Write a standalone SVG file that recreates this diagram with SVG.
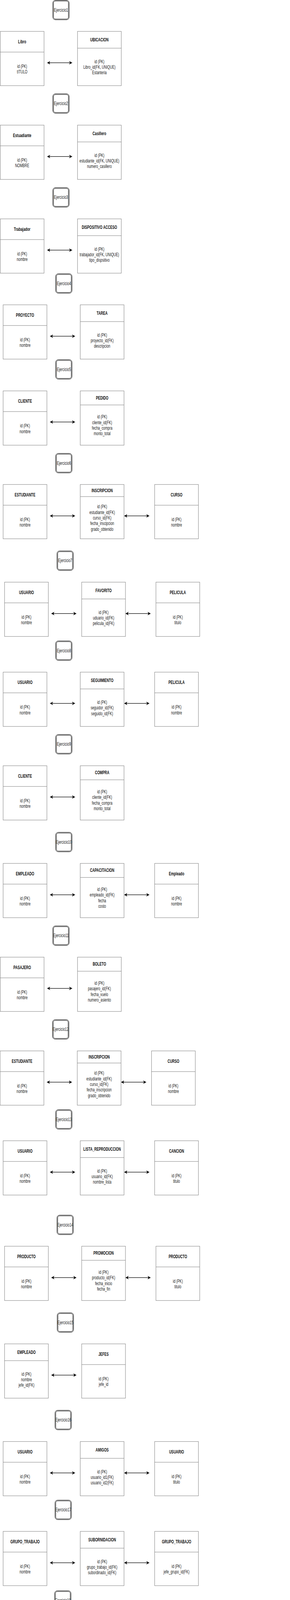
<svg xmlns="http://www.w3.org/2000/svg" width="742" height="6046" viewBox="0 0 742 6046">
<style>
.tb{fill:#fff;stroke:#808080;stroke-width:1}
.dv{stroke:#808080;stroke-width:1}
.eo{fill:#fff;stroke:#000;stroke-width:1}
.ei{fill:none;stroke:#000;stroke-width:1}
.h{font-family:"Liberation Sans",Arial,sans-serif;font-size:12px;font-weight:bold;text-anchor:middle;dominant-baseline:central;fill:#111}
.b{font-family:"Liberation Sans",Arial,sans-serif;font-size:12px;text-anchor:middle;dominant-baseline:central;fill:#222}
.e{font-family:"Liberation Sans",Arial,sans-serif;font-size:12px;text-anchor:middle;dominant-baseline:central;fill:#222}
.ar{stroke:#000;stroke-width:1.3;fill:none;marker-start:url(#ah);marker-end:url(#ah)}
</style>
<defs>
<marker id="ah" viewBox="0 0 8 9" refX="7.5" refY="4.5" markerWidth="8" markerHeight="9" markerUnits="userSpaceOnUse" orient="auto-start-reverse"><path d="M0,0 L8,4.5 L0,9 L2.5,4.5 Z" fill="#000"/></marker>
<clipPath id="clipS"><rect x="200" y="5180" width="122" height="160"/></clipPath>
</defs>
<rect x="0" y="0" width="742" height="6046" fill="#fff"/>

<!-- Ejercicio labels -->
<g id="ej1"><rect class="eo" x="135" y="0.7" width="42" height="50" rx="7"/><rect class="ei" x="137" y="2.7" width="38" height="46" rx="5"/><text class="e" transform="translate(156 25.7) scale(.69 1)">Ejercicio1</text></g>
<g id="ej2"><rect class="eo" x="135" y="240" width="42" height="50" rx="7"/><rect class="ei" x="137" y="242" width="38" height="46" rx="5"/><text class="e" transform="translate(156 265) scale(.69 1)">Ejercicio2</text></g>
<g id="ej3"><rect class="eo" x="135" y="480.3" width="42" height="50" rx="7"/><rect class="ei" x="137" y="482.3" width="38" height="46" rx="5"/><text class="e" transform="translate(156 505.3) scale(.69 1)">Ejercicio3</text></g>
<g id="ej4"><rect class="eo" x="142.3" y="700.7" width="42" height="50" rx="7"/><rect class="ei" x="144.3" y="702.7" width="38" height="46" rx="5"/><text class="e" transform="translate(163.3 725.7) scale(.69 1)">Ejercicio4</text></g>
<g id="ej5"><rect class="eo" x="142.3" y="920.7" width="42" height="50" rx="7"/><rect class="ei" x="144.3" y="922.7" width="38" height="46" rx="5"/><text class="e" transform="translate(163.3 945.7) scale(.69 1)">Ejercicio5</text></g>
<g id="ej6"><rect class="eo" x="142.3" y="1160.7" width="42" height="50" rx="7"/><rect class="ei" x="144.3" y="1162.7" width="38" height="46" rx="5"/><text class="e" transform="translate(163.3 1185.7) scale(.69 1)">Ejercicio6</text></g>
<g id="ej7"><rect class="eo" x="145.7" y="1410.3" width="42" height="50" rx="7"/><rect class="ei" x="147.7" y="1412.3" width="38" height="46" rx="5"/><text class="e" transform="translate(166.7 1435.3) scale(.69 1)">Ejercicio7</text></g>
<g id="ej8"><rect class="eo" x="142.3" y="1640.7" width="42" height="50" rx="7"/><rect class="ei" x="144.3" y="1642.7" width="38" height="46" rx="5"/><text class="e" transform="translate(163.3 1665.7) scale(.69 1)">Ejercicio8</text></g>
<g id="ej9"><rect class="eo" x="142.3" y="1880.3" width="42" height="50" rx="7"/><rect class="ei" x="144.3" y="1882.3" width="38" height="46" rx="5"/><text class="e" transform="translate(163.3 1905.3) scale(.69 1)">Ejercicio9</text></g>
<g id="ej10"><rect class="eo" x="142.3" y="2130.7" width="42" height="50" rx="7"/><rect class="ei" x="144.3" y="2132.7" width="38" height="46" rx="5"/><text class="e" transform="translate(163.3 2155.7) scale(.69 1)">Ejercicio10</text></g>
<g id="ej11"><rect class="eo" x="135" y="2370.3" width="42" height="50" rx="7"/><rect class="ei" x="137" y="2372.3" width="38" height="46" rx="5"/><text class="e" transform="translate(156 2395.3) scale(.69 1)">Ejercicio11</text></g>
<g id="ej12"><rect class="eo" x="134.3" y="2610.3" width="42" height="50" rx="7"/><rect class="ei" x="136.3" y="2612.3" width="38" height="46" rx="5"/><text class="e" transform="translate(155.3 2635.3) scale(.69 1)">Ejercicio12</text></g>
<g id="ej13"><rect class="eo" x="142.3" y="2840.7" width="42" height="50" rx="7"/><rect class="ei" x="144.3" y="2842.7" width="38" height="46" rx="5"/><text class="e" transform="translate(163.3 2865.7) scale(.69 1)">Ejercicio13</text></g>
<g id="ej14"><rect class="eo" x="145.7" y="3110.7" width="42" height="50" rx="7"/><rect class="ei" x="147.7" y="3112.7" width="38" height="46" rx="5"/><text class="e" transform="translate(166.7 3135.7) scale(.69 1)">Ejercicio14</text></g>
<g id="ej15"><rect class="eo" x="146.3" y="3360.7" width="42" height="50" rx="7"/><rect class="ei" x="148.3" y="3362.7" width="38" height="46" rx="5"/><text class="e" transform="translate(167.3 3385.7) scale(.69 1)">Ejercicio15</text></g>
<g id="ej16"><rect class="eo" x="140.7" y="3610.3" width="42" height="50" rx="7"/><rect class="ei" x="142.7" y="3612.3" width="38" height="46" rx="5"/><text class="e" transform="translate(161.7 3635.3) scale(.69 1)">Ejercicio16</text></g>
<g id="ej17"><rect class="eo" x="140.7" y="3840.3" width="42" height="50" rx="7"/><rect class="ei" x="142.7" y="3842.3" width="38" height="46" rx="5"/><text class="e" transform="translate(161.7 3865.3) scale(.69 1)">Ejercicio17</text></g>
<g id="ej18"><rect class="eo" x="139.7" y="4072.3" width="42" height="50" rx="7"/><rect class="ei" x="141.7" y="4074.3" width="38" height="46" rx="5"/><text class="e" transform="translate(160.7 4097.3) scale(.69 1)">Ejercicio18</text></g>
<g id="ej19"><rect class="eo" x="141.3" y="4580.3" width="42" height="50" rx="7"/><rect class="ei" x="143.3" y="4582.3" width="38" height="46" rx="5"/><text class="e" transform="translate(162.3 4605.3) scale(.69 1)">Ejercicio19</text></g>
<g id="ej20"><rect class="eo" x="147" y="5110.3" width="42" height="50" rx="7"/><rect class="ei" x="149" y="5112.3" width="38" height="46" rx="5"/><text class="e" transform="translate(168 5135.3) scale(.69 1)">Ejercicio20</text></g>
<g id="ej21"><rect class="eo" x="146.3" y="5340.3" width="42" height="50" rx="7"/><rect class="ei" x="148.3" y="5342.3" width="38" height="46" rx="5"/><text class="e" transform="translate(167.3 5365.3) scale(.69 1)">Ejercicio21</text></g>
<g id="ej22"><rect class="eo" x="149.7" y="5590.3" width="42" height="50" rx="7"/><rect class="ei" x="151.7" y="5592.3" width="38" height="46" rx="5"/><text class="e" transform="translate(170.7 5615.3) scale(.69 1)">Ejercicio22</text></g>
<g id="ej23"><rect class="eo" x="149.7" y="5825.3" width="42" height="50" rx="7"/><rect class="ei" x="151.7" y="5827.3" width="38" height="46" rx="5"/><text class="e" transform="translate(170.7 5850.3) scale(.69 1)">Ejercicio23</text></g>

<!-- Tables -->
<g id="t1"><rect class="tb" x="0.7" y="80.3" width="112" height="139"/><line class="dv" x1="0.7" y1="133.3" x2="112.7" y2="133.3"/><text class="h" transform="translate(56.7 106.8) scale(.69 1)">Libro</text><text class="b" transform="translate(56.7 169.1) scale(.69 1)"><tspan x="0" y="0">id (PK)</tspan><tspan x="0" dy="14.4">tITULO</tspan></text></g>
<g id="t2"><rect class="tb" x="198.3" y="80.3" width="112" height="139"/><line class="dv" x1="198.3" y1="123.3" x2="310.3" y2="123.3"/><text class="h" transform="translate(254.3 101.8) scale(.69 1)">UBICACION</text><text class="b" transform="translate(254.3 156.9) scale(.69 1)"><tspan x="0" y="0">id (PK)</tspan><tspan x="0" dy="14.4">Libro_id(FK, UNIQUE)</tspan><tspan x="0" dy="14.4">Estanteria</tspan></text></g>

<g id="t3"><rect class="tb" x="0.7" y="320.3" width="112" height="139"/><line class="dv" x1="0.7" y1="373.3" x2="112.7" y2="373.3"/><text class="h" transform="translate(56.7 346.8) scale(.69 1)">Estuadiante</text><text class="b" transform="translate(56.7 409.1) scale(.69 1)"><tspan x="0" y="0">id (PK)</tspan><tspan x="0" dy="14.4">NOMBRE</tspan></text></g>
<g id="t4"><rect class="tb" x="198.3" y="320.3" width="112" height="139"/><line class="dv" x1="198.3" y1="363.3" x2="310.3" y2="363.3"/><text class="h" transform="translate(254.3 341.8) scale(.69 1)">Casillero</text><text class="b" transform="translate(254.3 396.9) scale(.69 1)"><tspan x="0" y="0">id (PK)</tspan><tspan x="0" dy="14.4">estudiante_id(FK, UNIQUE)</tspan><tspan x="0" dy="14.4">numero_casillero</tspan></text></g>

<g id="t5"><rect class="tb" x="0.7" y="560.3" width="112" height="139"/><line class="dv" x1="0.7" y1="613.3" x2="112.7" y2="613.3"/><text class="h" transform="translate(56.7 586.8) scale(.69 1)">Trabajador</text><text class="b" transform="translate(56.7 649.1) scale(.69 1)"><tspan x="0" y="0">id (PK)</tspan><tspan x="0" dy="14.4">nombre</tspan></text></g>
<g id="t6"><rect class="tb" x="198.3" y="560.3" width="112" height="139"/><line class="dv" x1="198.3" y1="603.3" x2="310.3" y2="603.3"/><text class="h" transform="translate(254.3 581.8) scale(.69 1)">DISPOSITIVO ACCESO</text><text class="b" transform="translate(254.3 636.9) scale(.69 1)"><tspan x="0" y="0">id (PK)</tspan><tspan x="0" dy="14.4">trabajador_id(FK, UNIQUE)</tspan><tspan x="0" dy="14.4">tipo_dispsitivo</tspan></text></g>

<g id="t7"><rect class="tb" x="8" y="780.3" width="112" height="139"/><line class="dv" x1="8" y1="833.3" x2="120" y2="833.3"/><text class="h" transform="translate(64 806.8) scale(.69 1)">PROYECTO</text><text class="b" transform="translate(64 869.1) scale(.69 1)"><tspan x="0" y="0">id (PK)</tspan><tspan x="0" dy="14.4">nombre</tspan></text></g>
<g id="t8"><rect class="tb" x="205.3" y="780.3" width="112" height="139"/><line class="dv" x1="205.3" y1="823.3" x2="317.3" y2="823.3"/><text class="h" transform="translate(261.3 801.8) scale(.69 1)">TAREA</text><text class="b" transform="translate(261.3 856.9) scale(.69 1)"><tspan x="0" y="0">id (PK)</tspan><tspan x="0" dy="14.4">proyecto_id(FK)</tspan><tspan x="0" dy="14.4">descripcion</tspan></text></g>

<g id="t9"><rect class="tb" x="8" y="1000.7" width="112" height="139"/><line class="dv" x1="8" y1="1053.7" x2="120" y2="1053.7"/><text class="h" transform="translate(64 1027.2) scale(.69 1)">CLIENTE</text><text class="b" transform="translate(64 1089.5) scale(.69 1)"><tspan x="0" y="0">id (PK)</tspan><tspan x="0" dy="14.4">nombre</tspan></text></g>
<g id="t10"><rect class="tb" x="205.3" y="1000.7" width="112" height="139"/><line class="dv" x1="205.3" y1="1036.7" x2="317.3" y2="1036.7"/><text class="h" transform="translate(261.3 1018.7) scale(.69 1)">PEDIDO</text><text class="b" transform="translate(261.3 1066.6) scale(.69 1)"><tspan x="0" y="0">id (PK)</tspan><tspan x="0" dy="14.4">cliente_id(FK)</tspan><tspan x="0" dy="14.4">fecha_compra</tspan><tspan x="0" dy="14.4">monto_total</tspan></text></g>

<g id="t11"><rect class="tb" x="8" y="1240.3" width="112" height="139"/><line class="dv" x1="8" y1="1293.3" x2="120" y2="1293.3"/><text class="h" transform="translate(64 1266.8) scale(.69 1)">ESTUDIANTE</text><text class="b" transform="translate(64 1329.1) scale(.69 1)"><tspan x="0" y="0">id (PK)</tspan><tspan x="0" dy="14.4">nombre</tspan></text></g>
<g id="t12"><rect class="tb" x="205.3" y="1240.3" width="112" height="139"/><line class="dv" x1="205.3" y1="1271.3" x2="317.3" y2="1271.3"/><text class="h" transform="translate(261.3 1255.8) scale(.69 1)">INSCRIPCION</text><text class="b" transform="translate(261.3 1296.5) scale(.69 1)"><tspan x="0" y="0">id (PK)</tspan><tspan x="0" dy="14.4">estudiante_id(FK)</tspan><tspan x="0" dy="14.4">curso_id(FK)</tspan><tspan x="0" dy="14.4">fecha_inscipcion</tspan><tspan x="0" dy="14.4">grado_obtenido</tspan></text></g>
<g id="t13"><rect class="tb" x="395.7" y="1240.3" width="112" height="139"/><line class="dv" x1="395.7" y1="1293.3" x2="507.7" y2="1293.3"/><text class="h" transform="translate(451.7 1266.8) scale(.69 1)">CURSO</text><text class="b" transform="translate(451.7 1329.1) scale(.69 1)"><tspan x="0" y="0">id (PK)</tspan><tspan x="0" dy="14.4">nombre</tspan></text></g>

<g id="t14"><rect class="tb" x="11.7" y="1490.3" width="112" height="139"/><line class="dv" x1="11.7" y1="1543.3" x2="123.7" y2="1543.3"/><text class="h" transform="translate(67.7 1516.8) scale(.69 1)">USUARIO</text><text class="b" transform="translate(67.7 1579.1) scale(.69 1)"><tspan x="0" y="0">id (PK)</tspan><tspan x="0" dy="14.4">nombre</tspan></text></g>
<g id="t15"><rect class="tb" x="209" y="1490.3" width="112" height="139"/><line class="dv" x1="209" y1="1533.3" x2="321" y2="1533.3"/><text class="h" transform="translate(265 1511.8) scale(.69 1)">FAVORITO</text><text class="b" transform="translate(265 1566.9) scale(.69 1)"><tspan x="0" y="0">id (PK)</tspan><tspan x="0" dy="14.4">uduario_id(FK)</tspan><tspan x="0" dy="14.4">pelicula_id(FK)</tspan></text></g>
<g id="t16"><rect class="tb" x="399" y="1490.3" width="112" height="139"/><line class="dv" x1="399" y1="1543.3" x2="511" y2="1543.3"/><text class="h" transform="translate(455 1516.8) scale(.69 1)">PELICULA</text><text class="b" transform="translate(455 1579.1) scale(.69 1)"><tspan x="0" y="0">id (PK)</tspan><tspan x="0" dy="14.4">titulo</tspan></text></g>

<g id="t17"><rect class="tb" x="8" y="1720.7" width="112" height="139"/><line class="dv" x1="8" y1="1773.7" x2="120" y2="1773.7"/><text class="h" transform="translate(64 1747.2) scale(.69 1)">USUARIO</text><text class="b" transform="translate(64 1809.5) scale(.69 1)"><tspan x="0" y="0">id (PK)</tspan><tspan x="0" dy="14.4">nombre</tspan></text></g>
<g id="t18"><rect class="tb" x="205.3" y="1720.7" width="112" height="139"/><line class="dv" x1="205.3" y1="1763.7" x2="317.3" y2="1763.7"/><text class="h" transform="translate(261.3 1742.2) scale(.69 1)">SEGUIMIENTO</text><text class="b" transform="translate(261.3 1797.3) scale(.69 1)"><tspan x="0" y="0">id (PK)</tspan><tspan x="0" dy="14.4">seguidor_id(FK)</tspan><tspan x="0" dy="14.4">seguido_id(FK)</tspan></text></g>
<g id="t19"><rect class="tb" x="395.7" y="1720.7" width="112" height="139"/><line class="dv" x1="395.7" y1="1773.7" x2="507.7" y2="1773.7"/><text class="h" transform="translate(451.7 1747.2) scale(.69 1)">PELICULA</text><text class="b" transform="translate(451.7 1809.5) scale(.69 1)"><tspan x="0" y="0">id (PK)</tspan><tspan x="0" dy="14.4">nombre</tspan></text></g>

<g id="t20"><rect class="tb" x="8" y="1960.3" width="112" height="139"/><line class="dv" x1="8" y1="2013.3" x2="120" y2="2013.3"/><text class="h" transform="translate(64 1986.8) scale(.69 1)">CLIENTE</text><text class="b" transform="translate(64 2049.1) scale(.69 1)"><tspan x="0" y="0">id (PK)</tspan><tspan x="0" dy="14.4">nombre</tspan></text></g>
<g id="t21"><rect class="tb" x="205.3" y="1960.3" width="112" height="139"/><line class="dv" x1="205.3" y1="1996.3" x2="317.3" y2="1996.3"/><text class="h" transform="translate(261.3 1978.3) scale(.69 1)">COMPRA</text><text class="b" transform="translate(261.3 2026.2) scale(.69 1)"><tspan x="0" y="0">id (PK)</tspan><tspan x="0" dy="14.4">cliente_id(FK)</tspan><tspan x="0" dy="14.4">fecha_compra</tspan><tspan x="0" dy="14.4">monto_total</tspan></text></g>

<g id="t22"><rect class="tb" x="8" y="2210.3" width="112" height="139"/><line class="dv" x1="8" y1="2263.3" x2="120" y2="2263.3"/><text class="h" transform="translate(64 2236.8) scale(.69 1)">EMPLEADO</text><text class="b" transform="translate(64 2299.1) scale(.69 1)"><tspan x="0" y="0">id (PK)</tspan><tspan x="0" dy="14.4">nombre</tspan></text></g>
<g id="t23"><rect class="tb" x="205.3" y="2210.3" width="112" height="139"/><line class="dv" x1="205.3" y1="2246.3" x2="317.3" y2="2246.3"/><text class="h" transform="translate(261.3 2228.3) scale(.69 1)">CAPACITACION</text><text class="b" transform="translate(261.3 2276.2) scale(.69 1)"><tspan x="0" y="0">id (PK)</tspan><tspan x="0" dy="14.4">empleado_id(FK)</tspan><tspan x="0" dy="14.4">fecha</tspan><tspan x="0" dy="14.4">costo</tspan></text></g>
<g id="t24"><rect class="tb" x="395.7" y="2210.3" width="112" height="139"/><line class="dv" x1="395.7" y1="2263.3" x2="507.7" y2="2263.3"/><text class="h" transform="translate(451.7 2236.8) scale(.69 1)">Empleado</text><text class="b" transform="translate(451.7 2299.1) scale(.69 1)"><tspan x="0" y="0">id (PK)</tspan><tspan x="0" dy="14.4">nombre</tspan></text></g>

<g id="t25"><rect class="tb" x="0.7" y="2450.3" width="112" height="139"/><line class="dv" x1="0.7" y1="2503.3" x2="112.7" y2="2503.3"/><text class="h" transform="translate(56.7 2476.8) scale(.69 1)">PASAJERO</text><text class="b" transform="translate(56.7 2539.1) scale(.69 1)"><tspan x="0" y="0">id (PK)</tspan><tspan x="0" dy="14.4">nombre</tspan></text></g>
<g id="t26"><rect class="tb" x="198.3" y="2450.3" width="112" height="139"/><line class="dv" x1="198.3" y1="2486.3" x2="310.3" y2="2486.3"/><text class="h" transform="translate(254.3 2468.3) scale(.69 1)">BOLETO</text><text class="b" transform="translate(254.3 2516.2) scale(.69 1)"><tspan x="0" y="0">id (PK)</tspan><tspan x="0" dy="14.4">pasajero_id(FK)</tspan><tspan x="0" dy="14.4">fecha_vuelo</tspan><tspan x="0" dy="14.4">numero_asiento</tspan></text></g>

<g id="t27"><rect class="tb" x="0.3" y="2690.3" width="112" height="139"/><line class="dv" x1="0.3" y1="2743.3" x2="112.3" y2="2743.3"/><text class="h" transform="translate(56.3 2716.8) scale(.69 1)">ESTUDIANTE</text><text class="b" transform="translate(56.3 2779.1) scale(.69 1)"><tspan x="0" y="0">id (PK)</tspan><tspan x="0" dy="14.4">nombre</tspan></text></g>
<g id="t28"><rect class="tb" x="197.7" y="2690.3" width="112" height="139"/><line class="dv" x1="197.7" y1="2721.3" x2="309.7" y2="2721.3"/><text class="h" transform="translate(253.7 2705.8) scale(.69 1)">INSCRIPCION</text><text class="b" transform="translate(253.7 2746.5) scale(.69 1)"><tspan x="0" y="0">id (PK)</tspan><tspan x="0" dy="14.4">estudiante_id(FK)</tspan><tspan x="0" dy="14.4">curso_id(FK)</tspan><tspan x="0" dy="14.4">fecha_inscripcion</tspan><tspan x="0" dy="14.4">grado_obtenido</tspan></text></g>
<g id="t29"><rect class="tb" x="387.7" y="2690.3" width="112" height="139"/><line class="dv" x1="387.7" y1="2743.3" x2="499.7" y2="2743.3"/><text class="h" transform="translate(443.7 2716.8) scale(.69 1)">CURSO</text><text class="b" transform="translate(443.7 2779.1) scale(.69 1)"><tspan x="0" y="0">id (PK)</tspan><tspan x="0" dy="14.4">nombre</tspan></text></g>

<g id="t30"><rect class="tb" x="8" y="2920.3" width="112" height="139"/><line class="dv" x1="8" y1="2973.3" x2="120" y2="2973.3"/><text class="h" transform="translate(64 2946.8) scale(.69 1)">USUARIO</text><text class="b" transform="translate(64 3009.1) scale(.69 1)"><tspan x="0" y="0">id (PK)</tspan><tspan x="0" dy="14.4">nombre</tspan></text></g>
<g id="t31"><rect class="tb" x="205.3" y="2920.3" width="112" height="139"/><line class="dv" x1="205.3" y1="2963.3" x2="317.3" y2="2963.3"/><text class="h" transform="translate(261.3 2941.8) scale(.69 1)">LISTA_REPRODUCCION</text><text class="b" transform="translate(261.3 2996.9) scale(.69 1)"><tspan x="0" y="0">id (PK)</tspan><tspan x="0" dy="14.4">usuario_id(FK)</tspan><tspan x="0" dy="14.4">nombre_lista</tspan></text></g>
<g id="t32"><rect class="tb" x="395.7" y="2920.3" width="112" height="139"/><line class="dv" x1="395.7" y1="2973.3" x2="507.7" y2="2973.3"/><text class="h" transform="translate(451.7 2946.8) scale(.69 1)">CANCION</text><text class="b" transform="translate(451.7 3009.1) scale(.69 1)"><tspan x="0" y="0">id (PK)</tspan><tspan x="0" dy="14.4">titulo</tspan></text></g>

<g id="t33"><rect class="tb" x="11.7" y="3190.3" width="112" height="139"/><line class="dv" x1="11.7" y1="3243.3" x2="123.7" y2="3243.3"/><text class="h" transform="translate(67.7 3216.8) scale(.69 1)">PRODUCTO</text><text class="b" transform="translate(67.7 3279.1) scale(.69 1)"><tspan x="0" y="0">id (PK)</tspan><tspan x="0" dy="14.4">nombre</tspan></text></g>
<g id="t34"><rect class="tb" x="209" y="3190.3" width="112" height="139"/><line class="dv" x1="209" y1="3226.3" x2="321" y2="3226.3"/><text class="h" transform="translate(265 3208.3) scale(.69 1)">PROMOCION</text><text class="b" transform="translate(265 3256.2) scale(.69 1)"><tspan x="0" y="0">id (PK)</tspan><tspan x="0" dy="14.4">producto_id(FK)</tspan><tspan x="0" dy="14.4">fecha_inicio</tspan><tspan x="0" dy="14.4">fecha_fin</tspan></text></g>
<g id="t35"><rect class="tb" x="399" y="3190.3" width="112" height="139"/><line class="dv" x1="399" y1="3243.3" x2="511" y2="3243.3"/><text class="h" transform="translate(455 3216.8) scale(.69 1)">PRODUCTO</text><text class="b" transform="translate(455 3279.1) scale(.69 1)"><tspan x="0" y="0">id (PK)</tspan><tspan x="0" dy="14.4">titulo</tspan></text></g>

<g id="t36"><rect class="tb" x="11.7" y="3440.3" width="112" height="139"/><line class="dv" x1="11.7" y1="3483.3" x2="123.7" y2="3483.3"/><text class="h" transform="translate(67.7 3461.8) scale(.69 1)">EMPLEADO</text><text class="b" transform="translate(67.7 3516.9) scale(.69 1)"><tspan x="0" y="0">id (PK)</tspan><tspan x="0" dy="14.4">nombre</tspan><tspan x="0" dy="14.4">jefe_id(FK)</tspan></text></g>
<g id="t37"><rect class="tb" x="209" y="3440.3" width="112" height="139"/><line class="dv" x1="209" y1="3493.3" x2="321" y2="3493.3"/><text class="h" transform="translate(265 3466.8) scale(.69 1)">JEFES</text><text class="b" transform="translate(265 3529.1) scale(.69 1)"><tspan x="0" y="0">id (PK)</tspan><tspan x="0" dy="14.4">jefe_id</tspan></text></g>

<g id="t38"><rect class="tb" x="8" y="3690.3" width="112" height="139"/><line class="dv" x1="8" y1="3743.3" x2="120" y2="3743.3"/><text class="h" transform="translate(64 3716.8) scale(.69 1)">USUARIO</text><text class="b" transform="translate(64 3779.1) scale(.69 1)"><tspan x="0" y="0">id (PK)</tspan><tspan x="0" dy="14.4">nombre</tspan></text></g>
<g id="t39"><rect class="tb" x="205.3" y="3690.3" width="112" height="139"/><line class="dv" x1="205.3" y1="3733.3" x2="317.3" y2="3733.3"/><text class="h" transform="translate(261.3 3711.8) scale(.69 1)">AMIGOS</text><text class="b" transform="translate(261.3 3766.9) scale(.69 1)"><tspan x="0" y="0">id (PK)</tspan><tspan x="0" dy="14.4">usuario_id1(FK)</tspan><tspan x="0" dy="14.4">usuario_id2(FK)</tspan></text></g>
<g id="t40"><rect class="tb" x="395.7" y="3690.3" width="112" height="139"/><line class="dv" x1="395.7" y1="3743.3" x2="507.7" y2="3743.3"/><text class="h" transform="translate(451.7 3716.8) scale(.69 1)">USUARIO</text><text class="b" transform="translate(451.7 3779.1) scale(.69 1)"><tspan x="0" y="0">id (PK)</tspan><tspan x="0" dy="14.4">titulo</tspan></text></g>

<g id="t41"><rect class="tb" x="8" y="3920.3" width="112" height="139"/><line class="dv" x1="8" y1="3973.3" x2="120" y2="3973.3"/><text class="h" transform="translate(64 3946.8) scale(.69 1)">GRUPO_TRABAJO</text><text class="b" transform="translate(64 4009.1) scale(.69 1)"><tspan x="0" y="0">id (PK)</tspan><tspan x="0" dy="14.4">nombre</tspan></text></g>
<g id="t42"><rect class="tb" x="205.3" y="3920.3" width="112" height="139"/><line class="dv" x1="205.3" y1="3963.3" x2="317.3" y2="3963.3"/><text class="h" transform="translate(261.3 3941.8) scale(.69 1)">SUBORNIDACION</text><text class="b" transform="translate(261.3 3996.9) scale(.69 1)"><tspan x="0" y="0">id (PK)</tspan><tspan x="0" dy="14.4">grupo_trabajo_id(FK)</tspan><tspan x="0" dy="14.4">subordinado_id(FK)</tspan></text></g>
<g id="t43"><rect class="tb" x="395.7" y="3920.3" width="112" height="139"/><line class="dv" x1="395.7" y1="3973.3" x2="507.7" y2="3973.3"/><text class="h" transform="translate(451.7 3946.8) scale(.69 1)">GRUPO_TRABAJO</text><text class="b" transform="translate(451.7 4009.1) scale(.69 1)"><tspan x="0" y="0">id (PK)</tspan><tspan x="0" dy="14.4">jefe_grupo_id(FK)</tspan></text></g>

<g id="t44"><rect class="tb" x="6.7" y="4152.3" width="112" height="139"/><line class="dv" x1="6.7" y1="4195.3" x2="118.7" y2="4195.3"/><text class="h" transform="translate(62.7 4173.8) scale(.69 1)">VEHICULO</text><text class="b" transform="translate(62.7 4228.9) scale(.69 1)"><tspan x="0" y="0">id (PK)</tspan><tspan x="0" dy="14.4">marca</tspan><tspan x="0" dy="14.4">modelo</tspan></text></g>
<g id="t45"><rect class="tb" x="204" y="4152.3" width="112" height="139"/><line class="dv" x1="204" y1="4205.3" x2="316" y2="4205.3"/><text class="h" transform="translate(260 4178.8) scale(.69 1)">COCHE</text><text class="b" transform="translate(260 4241.1) scale(.69 1)"><tspan x="0" y="0">id (PK,FK)</tspan><tspan x="0" dy="14.4">numero_ruedas</tspan></text></g>
<g id="t46"><rect class="tb" x="204" y="4310.3" width="112" height="139"/><line class="dv" x1="204" y1="4363.3" x2="316" y2="4363.3"/><text class="h" transform="translate(260 4336.8) scale(.69 1)">MOTO</text><text class="b" transform="translate(260 4399.1) scale(.69 1)"><tspan x="0" y="0">id (PK,FK)</tspan><tspan x="0" dy="14.4">numero_ruedas</tspan></text></g>
<g id="t47"><rect class="tb" x="204" y="4460.3" width="112" height="139"/><line class="dv" x1="204" y1="4513.3" x2="316" y2="4513.3"/><text class="h" transform="translate(260 4486.8) scale(.69 1)">CAMION</text><text class="b" transform="translate(260 4549.1) scale(.69 1)"><tspan x="0" y="0">id (PK,FK)</tspan><tspan x="0" dy="14.4">carga_maxima</tspan></text></g>

<g id="t48"><rect class="tb" x="8" y="4660.3" width="112" height="139"/><line class="dv" x1="8" y1="4703.3" x2="120" y2="4703.3"/><text class="h" transform="translate(64 4681.8) scale(.69 1)">ANIMAL</text><text class="b" transform="translate(64 4736.9) scale(.69 1)"><tspan x="0" y="0">id (PK)</tspan><tspan x="0" dy="14.4">nombre</tspan><tspan x="0" dy="14.4">tipo</tspan></text></g>
<g id="t49"><rect class="tb" x="205.3" y="4660.3" width="112" height="139"/><line class="dv" x1="205.3" y1="4713.3" x2="317.3" y2="4713.3"/><text class="h" transform="translate(261.3 4686.8) scale(.69 1)">MAMIFERO</text><text class="b" transform="translate(261.3 4749.1) scale(.69 1)"><tspan x="0" y="0">id (PK,FK)</tspan><tspan x="0" dy="14.4">caracteristica</tspan></text></g>
<g id="t50"><rect class="tb" x="205.3" y="4820.3" width="112" height="139"/><line class="dv" x1="205.3" y1="4873.3" x2="317.3" y2="4873.3"/><text class="h" transform="translate(261.3 4846.8) scale(.69 1)">REPTIL</text><text class="b" transform="translate(261.3 4909.1) scale(.69 1)"><tspan x="0" y="0">id (PK,FK)</tspan><tspan x="0" dy="14.4">caracteristica</tspan></text></g>
<g id="t51"><rect class="tb" x="205.3" y="4980.3" width="112" height="139"/><line class="dv" x1="205.3" y1="5033.3" x2="317.3" y2="5033.3"/><text class="h" transform="translate(261.3 5006.8) scale(.69 1)">AVE</text><text class="b" transform="translate(261.3 5069.1) scale(.69 1)"><tspan x="0" y="0">id (PK,FK)</tspan><tspan x="0" dy="14.4">caracteristica</tspan></text></g>

<g id="t52"><rect class="tb" x="12.3" y="5190.3" width="112" height="139"/><line class="dv" x1="12.3" y1="5233.3" x2="124.3" y2="5233.3"/><text class="h" transform="translate(68.3 5211.8) scale(.69 1)">USUARIO</text><text class="b" transform="translate(68.3 5267) scale(.69 1)"><tspan x="0" y="0">id (PK)</tspan><tspan x="0" dy="14.4">nombre</tspan></text></g>
<g id="t53" clip-path="url(#clipS)"><rect class="tb" x="209.7" y="5190.3" width="120" height="139"/><line class="dv" x1="209.7" y1="5221.3" x2="329.7" y2="5221.3"/><text class="h" transform="translate(269.7 5205.8) scale(.69 1)">SUSCRIPCION</text><text class="b" transform="translate(268.8 5246.5) scale(.69 1)"><tspan x="0" y="0">id (PK)</tspan><tspan x="0" dy="14.4">usuario_id(FK)</tspan><tspan x="0" dy="14.4">tipo(basica,estandra,premium)</tspan><tspan x="0" dy="14.4">fecha_inicio</tspan><tspan x="0" dy="14.4">fecha_fin</tspan></text></g>

<g id="t54"><rect class="tb" x="12.3" y="5420.3" width="112" height="139"/><line class="dv" x1="12.3" y1="5473.3" x2="124.3" y2="5473.3"/><text class="h" transform="translate(68.3 5446.8) scale(.69 1)">ESTUDIANTE</text><text class="b" transform="translate(68.3 5509.1) scale(.69 1)"><tspan x="0" y="0">id (PK)</tspan><tspan x="0" dy="14.4">nombre</tspan></text></g>
<g id="t55"><rect class="tb" x="209.7" y="5420.3" width="112" height="139"/><line class="dv" x1="209.7" y1="5463.3" x2="321.7" y2="5463.3"/><text class="h" transform="translate(265.7 5441.8) scale(.69 1)">INSCRIPCION</text><text class="b" transform="translate(265.7 5496.9) scale(.69 1)"><tspan x="0" y="0">id (PK)</tspan><tspan x="0" dy="14.4">estudiante_id(FK)</tspan><tspan x="0" dy="14.4">curso_id(FK)</tspan></text></g>
<g id="t56"><rect class="tb" x="399.7" y="5420.3" width="112" height="139"/><line class="dv" x1="399.7" y1="5473.3" x2="511.7" y2="5473.3"/><text class="h" transform="translate(455.7 5446.8) scale(.69 1)">CURSO</text><text class="b" transform="translate(455.7 5509.1) scale(.69 1)"><tspan x="0" y="0">id (PK)</tspan><tspan x="0" dy="14.4">nombre</tspan></text></g>

<g id="t57"><rect class="tb" x="15.7" y="5670.3" width="112" height="139"/><line class="dv" x1="15.7" y1="5723.3" x2="127.7" y2="5723.3"/><text class="h" transform="translate(71.7 5696.8) scale(.69 1)">PASAJERO</text><text class="b" transform="translate(71.7 5759.1) scale(.69 1)"><tspan x="0" y="0">id (PK)</tspan><tspan x="0" dy="14.4">nombre</tspan></text></g>
<g id="t58"><rect class="tb" x="213" y="5670.3" width="112" height="139"/><line class="dv" x1="213" y1="5713.3" x2="325" y2="5713.3"/><text class="h" transform="translate(269 5691.8) scale(.69 1)">RESERVA</text><text class="b" transform="translate(269 5746.9) scale(.69 1)"><tspan x="0" y="0">id (PK)</tspan><tspan x="0" dy="14.4">pasajero_id(FK)</tspan><tspan x="0" dy="14.4">vuelo_id(FK)</tspan></text></g>
<g id="t59"><rect class="tb" x="403.3" y="5670.3" width="112" height="139"/><line class="dv" x1="403.3" y1="5723.3" x2="515.3" y2="5723.3"/><text class="h" transform="translate(459.3 5696.8) scale(.69 1)">VUELO</text><text class="b" transform="translate(459.3 5759.1) scale(.69 1)"><tspan x="0" y="0">id (PK)</tspan><tspan x="0" dy="14.4">destino</tspan></text></g>

<g id="t60"><rect class="tb" x="15.7" y="5905.3" width="112" height="139"/><line class="dv" x1="15.7" y1="5958.3" x2="127.7" y2="5958.3"/><text class="h" transform="translate(71.7 5931.8) scale(.69 1)">CLIENTE</text><text class="b" transform="translate(71.7 5994.1) scale(.69 1)"><tspan x="0" y="0">id (PK)</tspan><tspan x="0" dy="14.4">nombre</tspan></text></g>
<g id="t61"><rect class="tb" x="213" y="5905.3" width="112" height="139"/><line class="dv" x1="213" y1="5936.3" x2="325" y2="5936.3"/><text class="h" transform="translate(269 5920.8) scale(.69 1)">FACTURA</text><text class="b" transform="translate(269 5961.5) scale(.69 1)"><tspan x="0" y="0">id (PK)</tspan><tspan x="0" dy="14.4">cliente_id(FK)</tspan><tspan x="0" dy="14.4">producto_id(FK)</tspan><tspan x="0" dy="14.4">fecha</tspan><tspan x="0" dy="14.4">monto</tspan></text></g>
<g id="t62"><rect class="tb" x="409.7" y="5905.3" width="112" height="139"/><line class="dv" x1="409.7" y1="5958.3" x2="521.7" y2="5958.3"/><text class="h" transform="translate(465.7 5931.8) scale(.69 1)">PRODUCTO</text><text class="b" transform="translate(465.7 5994.1) scale(.69 1)"><tspan x="0" y="0">id (PK)</tspan><tspan x="0" dy="14.4">nombre</tspan></text></g>

<!-- Connectors -->
<g id="connectors">
<line class="ar" x1="121" y1="160.7" x2="184.3" y2="160.7"/>
<line class="ar" x1="121" y1="400.7" x2="184.3" y2="400.7"/>
<line class="ar" x1="121" y1="640.3" x2="184.3" y2="640.3"/>
<line class="ar" x1="128.3" y1="860.7" x2="191.7" y2="860.7"/>
<line class="ar" x1="128.3" y1="1080.3" x2="191.7" y2="1080.3"/>
<line class="ar" x1="128.3" y1="1320.7" x2="191.7" y2="1320.7"/>
<line class="ar" x1="318.3" y1="1320.7" x2="381.7" y2="1320.7"/>
<line class="ar" x1="131.7" y1="1570.7" x2="195" y2="1570.7"/>
<line class="ar" x1="321.7" y1="1570.7" x2="385" y2="1570.7"/>
<line class="ar" x1="128.3" y1="1800.7" x2="191.7" y2="1800.7"/>
<line class="ar" x1="318.3" y1="1800.7" x2="381.7" y2="1800.7"/>
<line class="ar" x1="128.3" y1="2040.3" x2="191.7" y2="2040.3"/>
<line class="ar" x1="128.3" y1="2290.7" x2="191.7" y2="2290.7"/>
<line class="ar" x1="318.3" y1="2290.7" x2="381.7" y2="2290.7"/>
<line class="ar" x1="121" y1="2530.3" x2="184.3" y2="2530.3"/>
<line class="ar" x1="120.3" y1="2770.3" x2="183.7" y2="2770.3"/>
<line class="ar" x1="310.3" y1="2770.3" x2="373.7" y2="2770.3"/>
<line class="ar" x1="128.3" y1="3000.7" x2="191.7" y2="3000.7"/>
<line class="ar" x1="318.3" y1="3000.7" x2="381.7" y2="3000.7"/>
<line class="ar" x1="131.7" y1="3270.7" x2="195" y2="3270.7"/>
<line class="ar" x1="321.7" y1="3270.7" x2="385" y2="3270.7"/>
<line class="ar" x1="131.7" y1="3520.3" x2="195" y2="3520.3"/>
<line class="ar" x1="128.3" y1="3770.7" x2="191.7" y2="3770.7"/>
<line class="ar" x1="318.3" y1="3770.7" x2="381.7" y2="3770.7"/>
<line class="ar" x1="128.3" y1="4000.7" x2="191.7" y2="4000.7"/>
<line class="ar" x1="318.3" y1="4000.7" x2="381.7" y2="4000.7"/>
<line class="ar" x1="126.7" y1="4232.7" x2="190" y2="4232.7"/>
<line class="ar" x1="128.3" y1="4740.3" x2="191.7" y2="4740.3"/>
<line class="ar" x1="132.3" y1="5270.3" x2="195.7" y2="5270.3"/>
<line class="ar" x1="132.3" y1="5500.7" x2="195.7" y2="5500.7"/>
<line class="ar" x1="322.3" y1="5500.7" x2="385.7" y2="5500.7"/>
<line class="ar" x1="136" y1="5750.7" x2="199.3" y2="5750.7"/>
<line class="ar" x1="326" y1="5750.7" x2="389.3" y2="5750.7"/>
<line class="ar" x1="136" y1="5986" x2="199.3" y2="5986"/>
<line class="ar" x1="332.7" y1="5975.3" x2="396" y2="5975.3"/>
</g>
</svg>
